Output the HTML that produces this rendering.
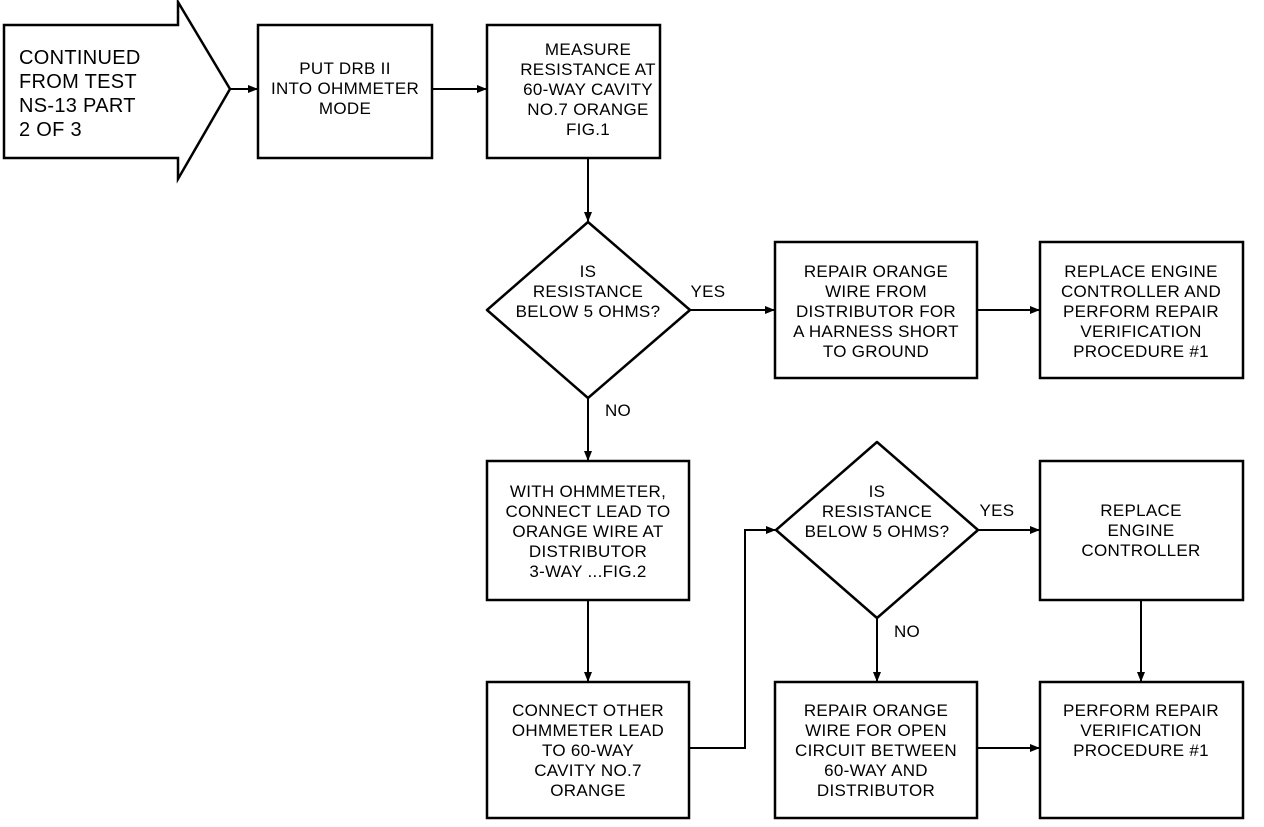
<!DOCTYPE html>
<html><head><meta charset="utf-8"><style>
html,body{margin:0;padding:0;background:#fff}
svg text{font-family:"Liberation Sans",sans-serif;font-size:17px;fill:#000;text-anchor:middle;letter-spacing:0.3px}
</style></head><body>
<svg width="1264" height="822" viewBox="0 0 1264 822" xmlns="http://www.w3.org/2000/svg">
<defs><marker id="a" markerWidth="10" markerHeight="8" refX="9" refY="4" orient="auto" markerUnits="userSpaceOnUse"><path d="M0,0 L10,4 L0,8 Z" fill="#000"/></marker></defs>
<g fill="none" stroke="#000" stroke-width="2.5">
<path d="M4,25 H178 V2 L230,89 L178,179 V158 H4 Z"/>
<rect x="258" y="25" width="174" height="133"/>
<rect x="487" y="25" width="173" height="133"/>
<path d="M588,222 L690,310 L588,398 L487,310 Z" stroke-linejoin="round"/>
<rect x="775" y="242" width="202" height="136"/>
<rect x="1040" y="242" width="203" height="136"/>
<rect x="487" y="461" width="202" height="139"/>
<path d="M877,442 L978,530 L877,618 L776,530 Z" stroke-linejoin="round"/>
<rect x="1040" y="461" width="203" height="139"/>
<rect x="487" y="682" width="202" height="136"/>
<rect x="775" y="682" width="202" height="136"/>
<rect x="1040" y="682" width="203" height="136"/>
</g>
<g fill="none" stroke="#000" stroke-width="2" marker-end="url(#a)">
<path d="M230,89 H257"/>
<path d="M432,89 H486"/>
<path d="M588,158 V221"/>
<path d="M690,310 H774"/>
<path d="M977,310 H1039"/>
<path d="M588,398 V460"/>
<path d="M588,600 V681"/>
<path d="M689,748 H745 V530 H775"/>
<path d="M978,530 H1039"/>
<path d="M877,618 V681"/>
<path d="M1141,600 V681"/>
<path d="M977,748 H1039"/>
</g>
<g style="text-anchor:start;font-size:20px">
<text x="19" y="64" style="text-anchor:start;font-size:20px">CONTINUED</text>
<text x="19" y="88" style="text-anchor:start;font-size:20px">FROM TEST</text>
<text x="19" y="112" style="text-anchor:start;font-size:20px">NS-13 PART</text>
<text x="19" y="136" style="text-anchor:start;font-size:20px">2 OF 3</text>
</g>
<text x="345" y="74">PUT DRB II</text>
<text x="345" y="94">INTO OHMMETER</text>
<text x="345" y="114">MODE</text>
<text x="588" y="55">MEASURE</text>
<text x="588" y="75">RESISTANCE AT</text>
<text x="588" y="95">60-WAY CAVITY</text>
<text x="588" y="115">NO.7 ORANGE</text>
<text x="588" y="135">FIG.1</text>
<text x="588" y="277">IS</text>
<text x="588" y="297">RESISTANCE</text>
<text x="588" y="317">BELOW 5 OHMS?</text>
<text x="708" y="297">YES</text>
<text x="618" y="416">NO</text>
<text x="876" y="277">REPAIR ORANGE</text>
<text x="876" y="297">WIRE FROM</text>
<text x="876" y="317">DISTRIBUTOR FOR</text>
<text x="876" y="337">A HARNESS SHORT</text>
<text x="876" y="357">TO GROUND</text>
<text x="1141" y="277">REPLACE ENGINE</text>
<text x="1141" y="297">CONTROLLER AND</text>
<text x="1141" y="317">PERFORM REPAIR</text>
<text x="1141" y="337">VERIFICATION</text>
<text x="1141" y="357">PROCEDURE #1</text>
<text x="588" y="497">WITH OHMMETER,</text>
<text x="588" y="517">CONNECT LEAD TO</text>
<text x="588" y="537">ORANGE WIRE AT</text>
<text x="588" y="557">DISTRIBUTOR</text>
<text x="588" y="577">3-WAY ...FIG.2</text>
<text x="877" y="497">IS</text>
<text x="877" y="517">RESISTANCE</text>
<text x="877" y="537">BELOW 5 OHMS?</text>
<text x="997" y="516">YES</text>
<text x="907" y="637">NO</text>
<text x="1141" y="516">REPLACE</text>
<text x="1141" y="536">ENGINE</text>
<text x="1141" y="556">CONTROLLER</text>
<text x="588" y="716">CONNECT OTHER</text>
<text x="588" y="736">OHMMETER LEAD</text>
<text x="588" y="756">TO 60-WAY</text>
<text x="588" y="776">CAVITY NO.7</text>
<text x="588" y="796">ORANGE</text>
<text x="876" y="716">REPAIR ORANGE</text>
<text x="876" y="736">WIRE FOR OPEN</text>
<text x="876" y="756">CIRCUIT BETWEEN</text>
<text x="876" y="776">60-WAY AND</text>
<text x="876" y="796">DISTRIBUTOR</text>
<text x="1141" y="716">PERFORM REPAIR</text>
<text x="1141" y="736">VERIFICATION</text>
<text x="1141" y="756">PROCEDURE #1</text>
</svg>
</body></html>
